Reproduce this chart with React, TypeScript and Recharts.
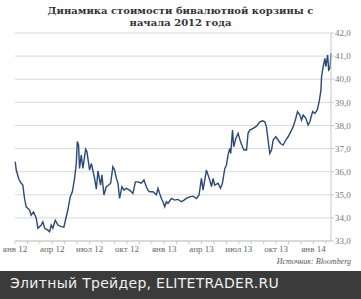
import { LineChart, Line, XAxis, YAxis, CartesianGrid } from 'recharts';

// month offset from 1 Jan 2012 and RUB basket value
const monthPos = [
  0.02, 0.1, 0.31, 0.5, 0.63, 0.76, 0.9, 1.17, 1.3, 1.49, 1.71, 1.84, 2.11, 2.24, 2.38, 2.64, 2.78, 2.91,
  3.04, 3.24, 3.45, 3.72, 3.93, 4.12, 4.25, 4.44, 4.61, 4.79, 4.93, 5.01, 5.11, 5.19, 5.33, 5.46, 5.68,
  5.78, 6.0, 6.14, 6.4, 6.54, 6.67, 6.88, 6.99, 7.15, 7.34, 7.53, 7.69, 7.87, 8.01, 8.15, 8.28, 8.41,
  8.6, 8.76, 8.95, 9.22, 9.48, 9.68, 9.89, 10.16, 10.37, 10.56, 10.69, 10.83, 11.09, 11.37, 11.5, 11.63,
  11.77, 11.9, 12.04, 12.17, 12.3, 12.58, 12.84, 13.11, 13.38, 13.59, 13.78, 14.05, 14.32, 14.59, 14.8,
  14.99, 15.12, 15.26, 15.39, 15.52, 15.66, 15.8, 15.93, 16.06, 16.33, 16.52, 16.68, 16.87, 17.0, 17.13,
  17.27, 17.35, 17.49, 17.59, 17.76, 17.94, 18.13, 18.29, 18.42, 18.62, 18.74, 18.88, 19.15, 19.42,
  19.69, 19.9, 20.09, 20.22, 20.35, 20.49, 20.63, 20.76, 20.97, 21.16, 21.35, 21.56, 21.78, 21.96,
  22.24, 22.37, 22.58, 22.72, 22.91, 23.04, 23.17, 23.39, 23.57, 23.71, 23.93, 24.11, 24.3, 24.46,
  24.6, 24.65, 24.78, 24.92, 25.0, 25.14, 25.22, 25.33, 25.41,
];
const rate = [
  36.43, 36.07, 35.67, 35.5, 35.42, 34.86, 34.48, 34.34, 34.12, 34.26, 33.99, 33.55, 33.69, 33.83, 33.56,
  33.47, 33.4, 33.69, 33.55, 33.9, 33.69, 33.62, 33.6, 34.05, 34.34, 34.91, 35.13, 35.71, 36.36, 37.3,
  37.16, 36.14, 36.72, 36.14, 36.97, 36.87, 36.07, 36.36, 35.71, 35.24, 36.03, 35.42, 35.86, 34.99,
  35.35, 35.42, 35.5, 36.21, 36.07, 35.71, 35.5, 34.84, 35.35, 35.2, 35.28, 35.2, 35.06, 35.56, 35.56,
  35.5, 35.64, 35.35, 35.2, 35.13, 35.13, 35.0, 35.28, 35.06, 34.84, 34.7, 34.48, 34.7, 34.63, 34.84,
  34.77, 34.8, 34.7, 34.77, 34.84, 34.91, 34.94, 34.84, 34.99, 35.71, 35.2, 35.64, 36.07, 35.86, 35.64,
  35.35, 35.71, 35.42, 35.5, 35.28, 35.5, 36.14, 36.28, 36.72, 37.0, 36.79, 37.8, 37.08, 37.44, 37.66,
  37.3, 37.08, 36.94, 36.94, 37.66, 37.8, 37.87, 37.97, 38.16, 38.2, 38.16, 37.94, 37.37, 36.79, 36.94,
  37.37, 37.51, 37.37, 37.22, 37.15, 37.37, 37.51, 37.8, 37.94, 38.31, 38.6, 38.45, 38.23, 38.45, 38.31,
  38.02, 38.16, 38.6, 38.52, 38.67, 39.03, 39.53, 40.11, 40.54, 40.9, 40.54, 41.05, 40.4, 40.47, 41.12,
];

const monthNames = ['янв', 'фев', 'мар', 'апр', 'май', 'июн', 'июл', 'авг', 'сен', 'окт', 'ноя', 'дек'];
const monthTicks = Array.from({ length: 26 }, (_, i) => i);
const valueTicks = [33, 34, 35, 36, 37, 38, 39, 40, 41, 42];

const data = monthPos.map((m, i) => ({ m, v: rate[i] }));

const serif = '"Liberation Serif", "DejaVu Serif", serif';

function monthLabel(m: number) {
  if (m % 3 !== 0) return '';
  return `${monthNames[m % 12]} ${12 + Math.floor(m / 12)}`;
}

export default function App() {
  return (
    <div style={{ position: 'absolute', left: 0, top: 0, width: 361, height: 299, background: '#fff', overflow: 'hidden' }}>
      <div
        style={{
          position: 'absolute',
          top: 5,
          left: 0,
          width: 361,
          textAlign: 'center',
          fontFamily: '"DejaVu Serif", serif',
          fontWeight: 'bold',
          fontSize: 10,
          lineHeight: '12px',
          color: '#333',
        }}
      >
        Динамика стоимости бивалютной корзины с
        <br />
        начала 2012 года
      </div>
      <div style={{ position: 'absolute', top: 0, left: 0 }}>
        <LineChart width={361} height={270} data={data} margin={{ top: 33, right: 0, left: 15, bottom: 9 }}>
          <CartesianGrid horizontal vertical={false} stroke="#d9d9d9" />
          <XAxis
            dataKey="m"
            type="number"
            domain={[0, 25.4]}
            ticks={monthTicks}
            interval={0}
            tickFormatter={monthLabel}
            height={20}
            tickSize={3}
            tickMargin={2}
            stroke="#c8c8c8"
            tick={{ fill: '#666', fontSize: 9, fontFamily: serif }}
          />
          <YAxis
            orientation="right"
            domain={[33, 42]}
            ticks={valueTicks}
            interval={0}
            width={30}
            tickSize={3}
            tickMargin={1}
            stroke="#c8c8c8"
            tickFormatter={(v: number) => v.toFixed(1).replace('.', ',')}
            tick={{ fill: '#777', fontSize: 9, fontFamily: serif, textAnchor: 'start' }}
          />
          <Line
            type="linear"
            dataKey="v"
            stroke="#2a4878"
            strokeWidth={1.4}
            dot={false}
            isAnimationActive={false}
          />
        </LineChart>
      </div>
      <div
        style={{
          position: 'absolute',
          right: 10,
          top: 257,
          fontFamily: serif,
          fontStyle: 'italic',
          fontSize: 8,
          color: '#555',
        }}
      >
        Источник: Bloomberg
      </div>
      <div
        style={{
          position: 'absolute',
          left: 0,
          top: 271,
          width: 361,
          height: 28,
          background: '#3b3b3b',
          color: '#f0f0f0',
          fontFamily: '"DejaVu Sans", sans-serif',
          fontSize: 14,
          letterSpacing: 0.3,
          lineHeight: '25px',
          paddingLeft: 10,
          boxSizing: 'border-box',
        }}
      >
        Элитный Трейдер, ELITETRADER.RU
      </div>
    </div>
  );
}
